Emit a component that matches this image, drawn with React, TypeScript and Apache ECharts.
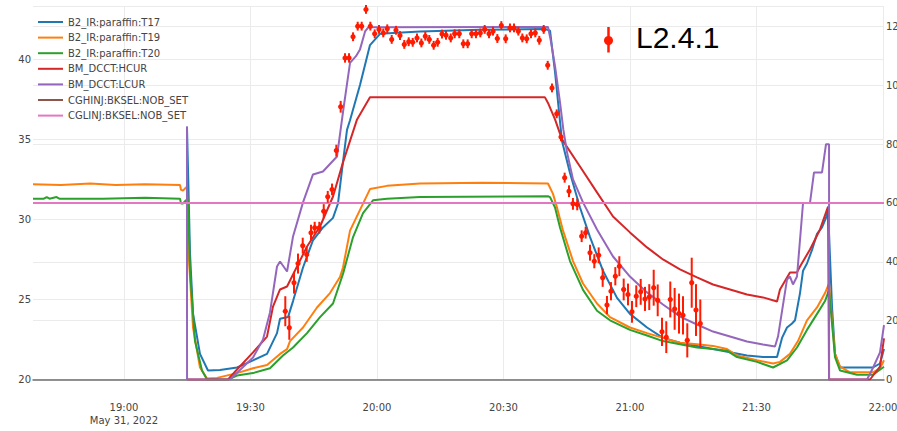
import React, { useEffect, useRef } from "react";
import * as echarts from "echarts";

// ---------- data ----------
const xTickTimes = ["19:00", "19:30", "20:00", "20:30", "21:00", "21:30", "22:00"];
const dateLabel = "May 31, 2022";
const xStart = "18:38:25";
const xEnd = "22:00:14";

const seriesNames = [
  "B2_IR:paraffin:T17",
  "B2_IR:paraffin:T19",
  "B2_IR:paraffin:T20",
  "BM_DCCT:HCUR",
  "BM_DCCT:LCUR",
  "CGHINJ:BKSEL:NOB_SET",
  "CGLINJ:BKSEL:NOB_SET",
];
const seriesColors = ["#1f77b4", "#ff7f0e", "#2ca02c", "#d62728", "#9467bd", "#8c564b", "#e377c2"];

const t17: [string, number][] = [
  ["19:14:56", 35.8], ["19:15:11", 33.1], ["19:15:39", 27.9], ["19:16:22", 24.1], ["19:18:01", 21.6],
  ["19:19:55", 20.56], ["19:22:46", 20.6], ["19:26:48", 20.75], ["19:30:36", 21.2], ["19:33:55", 21.6],
  ["19:36:17", 22.9], ["19:37:00", 23.8], ["19:38:54", 23.9], ["19:40:05", 24.9], ["19:42:27", 27.0],
  ["19:44:49", 28.7], ["19:47:11", 29.5], ["19:49:34", 30.1], ["19:50:45", 31.0], ["19:51:42", 33.1],
  ["19:52:53", 35.6], ["19:53:36", 36.2], ["19:55:58", 38.4], ["19:58:20", 40.9], ["20:00:43", 41.6],
  ["20:10:12", 41.75], ["20:24:26", 41.85], ["20:39:50", 41.9], ["20:41:02", 41.8], ["20:42:13", 39.2],
  ["20:43:52", 34.9], ["20:45:46", 32.9], ["20:48:08", 30.75], ["20:50:31", 28.9], ["20:53:35", 26.8],
  ["20:56:55", 25.1], ["20:59:59", 24.1], ["21:04:02", 23.25], ["21:07:49", 22.6], ["21:11:51", 22.3],
  ["21:15:53", 22.1], ["21:19:41", 21.9], ["21:23:43", 21.7], ["21:27:44", 21.5], ["21:31:32", 21.4],
  ["21:34:52", 21.4], ["21:36:03", 22.6], ["21:37:14", 23.25], ["21:38:25", 23.5], ["21:39:08", 23.7],
  ["21:40:19", 25.4], ["21:41:02", 26.8], ["21:41:58", 27.25], ["21:43:10", 28.1], ["21:44:21", 29.1],
  ["21:45:32", 29.5], ["21:46:29", 30.1], ["21:46:58", 30.6], ["21:47:55", 24.5], ["21:48:37", 21.6],
  ["21:49:49", 20.75], ["21:57:38", 20.75], ["21:59:17", 21.0], ["22:00:14", 21.9],
];

const t19: [string, number][] = [
  ["18:38:25", 32.2], ["18:45:00", 32.15], ["18:52:00", 32.25], ["18:58:00", 32.15], ["19:05:00", 32.2],
  ["19:13:17", 32.15], ["19:13:31", 31.85], ["19:13:59", 31.8], ["19:14:42", 32.0], ["19:14:56", 32.0],
  ["19:15:25", 27.4], ["19:16:22", 23.25], ["19:18:01", 20.75], ["19:19:41", 20.06], ["19:22:03", 20.1],
  ["19:26:48", 20.4], ["19:30:36", 20.7], ["19:33:55", 20.9], ["19:37:00", 21.6], ["19:38:40", 21.9],
  ["19:39:22", 22.4], ["19:42:27", 23.25], ["19:45:46", 24.5], ["19:48:51", 25.4], ["19:51:13", 26.4],
  ["19:51:56", 27.0], ["19:53:36", 29.3], ["19:55:58", 30.6], ["19:58:20", 31.9], ["20:02:22", 32.1],
  ["20:10:12", 32.25], ["20:25:00", 32.3], ["20:40:33", 32.25], ["20:41:44", 31.6], ["20:42:41", 30.75],
  ["20:44:07", 29.3], ["20:46:29", 27.4], ["20:48:51", 26.0], ["20:52:10", 24.75], ["20:55:15", 23.9],
  ["20:59:59", 23.25], ["21:04:02", 22.9], ["21:07:49", 22.6], ["21:11:51", 22.3], ["21:15:53", 22.2],
  ["21:19:41", 22.1], ["21:23:00", 21.9], ["21:25:22", 21.5], ["21:30:07", 21.2], ["21:33:55", 21.0],
  ["21:35:34", 21.1], ["21:37:56", 21.6], ["21:39:50", 22.4], ["21:41:58", 23.7], ["21:44:21", 24.5],
  ["21:46:15", 25.4], ["21:47:12", 26.0], ["21:47:55", 23.7], ["21:48:37", 21.6], ["21:49:49", 20.8],
  ["21:52:11", 20.45], ["21:57:38", 20.45], ["21:59:17", 20.7], ["22:00:14", 21.2],
];

const t20: [string, number][] = [
  ["18:38:25", 31.3], ["18:41:00", 31.3], ["18:41:40", 31.4], ["18:42:20", 31.3], ["18:44:00", 31.4],
  ["18:44:40", 31.3], ["18:55:00", 31.3], ["19:05:00", 31.35], ["19:13:17", 31.3], ["19:13:31", 31.0],
  ["19:13:59", 31.0], ["19:14:42", 31.2], ["19:15:11", 31.2], ["19:15:39", 26.8], ["19:16:50", 22.4],
  ["19:18:30", 20.56], ["19:19:41", 20.0], ["19:24:40", 20.0], ["19:26:48", 20.25], ["19:30:36", 20.4],
  ["19:34:37", 20.7], ["19:37:42", 21.5], ["19:40:05", 22.0], ["19:43:24", 22.9], ["19:46:29", 23.9],
  ["19:49:34", 24.75], ["19:51:56", 26.6], ["19:54:19", 28.9], ["19:56:41", 30.4], ["19:59:03", 31.2],
  ["20:02:22", 31.3], ["20:10:12", 31.4], ["20:40:33", 31.45], ["20:41:02", 31.4], ["20:42:13", 30.75],
  ["20:43:24", 29.5], ["20:45:46", 27.4], ["20:48:51", 25.6], ["20:52:10", 24.3], ["20:55:15", 23.7],
  ["20:59:59", 23.1], ["21:04:02", 22.75], ["21:07:49", 22.4], ["21:11:51", 22.2], ["21:15:53", 22.0],
  ["21:19:41", 21.9], ["21:23:00", 21.8], ["21:25:22", 21.4], ["21:30:07", 21.1], ["21:33:55", 20.75],
  ["21:37:14", 21.2], ["21:39:36", 22.0], ["21:41:58", 23.1], ["21:44:21", 24.1], ["21:46:15", 24.9],
  ["21:47:12", 25.6], ["21:48:37", 21.4], ["21:49:49", 20.56], ["21:53:50", 20.3], ["21:57:38", 20.3],
  ["22:00:14", 20.8],
];

const hcur: [string, number][] = [
  ["19:14:56", 0], ["19:24:40", 0], ["19:26:48", 3.4], ["19:30:36", 9.2], ["19:33:55", 14.6],
  ["19:35:20", 24.8], ["19:37:00", 30.6], ["19:38:40", 31.6], ["19:41:02", 38.4], ["19:43:24", 45.2],
  ["19:46:29", 52], ["19:49:34", 62.2], ["19:51:56", 73.8], ["19:55:16", 88.4], ["19:58:20", 95.9],
  ["20:39:50", 95.9], ["20:40:33", 94.0], ["20:42:13", 88.4], ["20:43:52", 81.6], ["20:48:08", 72.4],
  ["20:52:10", 63.6], ["20:55:58", 55.4], ["20:59:59", 50], ["21:04:02", 44.9], ["21:07:49", 40.8],
  ["21:11:51", 37.4], ["21:15:53", 34.7], ["21:19:41", 32.3], ["21:23:43", 30.6], ["21:27:44", 28.9],
  ["21:31:32", 27.9], ["21:34:52", 26.5], ["21:35:34", 30.6], ["21:37:56", 36.4], ["21:39:36", 36.4],
  ["21:40:19", 38.4], ["21:42:41", 44.2], ["21:45:04", 51], ["21:46:58", 58.8], ["21:47:12", 0],
  ["21:56:55", 0], ["21:59:17", 4.4], ["22:00:14", 14],
];

const lcur: [string, number][] = [
  ["19:14:56", 86], ["19:14:57", 0], ["19:25:08", 0], ["19:30:36", 7.5], ["19:32:58", 13.6],
  ["19:34:37", 22.8], ["19:36:17", 38.4], ["19:37:00", 40.1], ["19:38:40", 36.7], ["19:40:05", 48.6],
  ["19:42:27", 60.2], ["19:44:49", 69.7], ["19:47:11", 70.7], ["19:50:31", 75.8], ["19:52:00", 91.6],
  ["19:53:36", 107.6], ["19:55:01", 109.9], ["19:55:58", 112.2], ["19:57:10", 118.3], ["19:57:56", 119.7],
  ["20:40:33", 119.8], ["20:41:11", 115.4], ["20:42:13", 106.5], ["20:43:24", 94.2], ["20:44:11", 85],
  ["20:45:04", 77.2], ["20:46:29", 68], ["20:48:51", 60.2], ["20:52:10", 51], ["20:55:58", 41.8],
  ["20:59:59", 35], ["21:04:02", 29.6], ["21:07:49", 25.5], ["21:11:51", 21.4], ["21:15:53", 18.7],
  ["21:19:41", 16.3], ["21:23:43", 14.6], ["21:27:44", 12.9], ["21:31:32", 11.9], ["21:34:23", 11.2],
  ["21:35:06", 14.6], ["21:37:14", 34], ["21:37:56", 35], ["21:38:39", 32.3], ["21:39:36", 35],
  ["21:41:02", 60], ["21:42:41", 60], ["21:43:38", 70.4], ["21:45:32", 70.4], ["21:46:29", 80],
  ["21:47:12", 80], ["21:47:13", 0], ["21:56:13", 0], ["21:57:38", 4], ["21:59:17", 9.2],
  ["22:00:14", 18.5],
];

const cghinj: [string, number][] = [["18:38:25", 0], ["22:00:14", 0]];
const cglinj: [string, number][] = [["18:38:25", 60], ["22:00:14", 60]];

const l241Name = "L2.4.1";
const l241Time = [
  "19:38:15", "19:39:12", "19:40:19", "19:41:16", "19:42:23", "19:43:20", "19:44:21", "19:45:13", "19:46:19", "19:47:22",
  "19:48:19", "19:49:20", "19:50:21", "19:51:23", "19:52:25", "19:53:22", "19:54:19", "19:55:25", "19:56:22", "19:57:23",
  "19:58:25", "19:59:27", "20:00:28", "20:01:29", "20:02:26", "20:03:29", "20:04:30", "20:05:27", "20:06:28", "20:07:31",
  "20:08:28", "20:09:29", "20:10:31", "20:11:27", "20:12:24", "20:13:26", "20:14:23", "20:15:25", "20:16:22", "20:17:29",
  "20:18:25", "20:19:31", "20:20:28", "20:21:30", "20:22:27", "20:23:28", "20:24:30", "20:25:32", "20:26:34", "20:27:31",
  "20:28:32", "20:29:29", "20:30:31", "20:31:32", "20:32:29", "20:33:31", "20:34:28", "20:35:30", "20:36:31", "20:37:32",
  "20:38:29", "20:39:32", "20:40:29", "20:41:30", "20:42:37", "20:43:38", "20:44:30", "20:45:32", "20:46:28", "20:47:29",
  "20:48:32", "20:49:29", "20:50:31", "20:51:32", "20:52:34", "20:53:31", "20:54:32", "20:55:29", "20:56:31", "20:57:28",
  "20:58:30", "20:59:31", "21:00:28", "21:01:29", "21:02:32", "21:03:33", "21:04:34", "21:05:37", "21:06:34", "21:07:35",
  "21:08:36", "21:09:33", "21:10:35", "21:11:37", "21:12:34", "21:13:35", "21:14:38", "21:15:39", "21:16:40",
];
const l241Value = [
  23.2, 17.6, 32.9, 39.4, 45.5, 42.5, 49.9, 51.6, 51.6, 57.2,
  62.1, 64.6, 77.8, 92.7, 109.3, 109.3, 116.5, 120.1, 120.1, 125.8,
  120.1, 117.5, 119.0, 117.8, 119.2, 115.6, 118.7, 116.9, 113.9, 114.8,
  114.6, 116.1, 114.4, 116.7, 115.6, 113.6, 114.6, 117.4, 117.0, 116.1,
  117.5, 117.5, 114.1, 114.1, 117.5, 117.5, 117.8, 119.0, 117.5, 118.4,
  115.9, 120.3, 115.8, 119.5, 119.5, 118.4, 116.1, 115.8, 117.5, 117.8,
  115.3, 119.0, 106.8, 99.1, 90.3, 82.4, 68.6, 64.0, 59.7, 59.5,
  48.7, 49.9, 43.1, 40.2, 42.2, 34.6, 25.3, 30.0, 35.1, 38.5,
  30.6, 28.9, 23.0, 28.3, 29.8, 27.4, 28.0, 31.2, 26.9, 16.2,
  14.4, 27.2, 24.0, 22.4, 21.8, 13.3, 32.9, 23.6, 19.0,
];
const l241Err = [
  5.1, 4.1, 3.7, 3.4, 2.7, 2.5, 2.7, 2.0, 2.0, 2.4,
  2.0, 2.0, 2.0, 2.0, 1.6, 1.6, 1.5, 1.5, 1.5, 1.5,
  1.5, 1.5, 1.5, 1.5, 1.5, 1.5, 1.5, 1.5, 1.5, 1.5,
  1.5, 1.5, 1.5, 1.5, 1.5, 1.5, 1.5, 1.5, 1.5, 1.5,
  1.5, 1.5, 1.5, 1.5, 1.5, 1.5, 1.5, 1.5, 1.5, 1.5,
  1.5, 1.5, 1.5, 1.5, 1.5, 1.5, 1.5, 1.5, 1.5, 1.5,
  1.5, 1.5, 1.5, 1.5, 1.5, 1.4, 1.7, 2.0, 2.0, 2.0,
  2.0, 2.0, 2.7, 2.4, 2.7, 3.1, 3.1, 3.1, 3.1, 3.4,
  3.7, 3.7, 3.7, 3.7, 4.4, 4.1, 4.4, 6.1, 5.4, 4.8,
  5.4, 6.1, 7.1, 6.8, 6.5, 5.8, 8.5, 8.8, 8.2,
];
const l241Color = "#ff1a00";

// ---------- helpers ----------
const tm = (s: string): number => {
  const p = s.split(":").map(Number);
  return p[0] * 60 + p[1] + (p[2] || 0) / 60;
};
const fmtTime = (v: number): string => {
  const h = Math.floor(v / 60 + 1e-6);
  const m = Math.round(v - h * 60);
  return `${h}:${String(m).padStart(2, "0")}`;
};

const FONT = "DejaVu Sans, Verdana, sans-serif";

export default function App() {
  const ref = useRef<HTMLDivElement>(null);

  useEffect(() => {
    if (!ref.current) return;
    const chart = echarts.init(ref.current, undefined, { renderer: "svg" });

    const lineData = [t17, t19, t20, hcur, lcur, cghinj, cglinj];
    const yIdx = [0, 0, 0, 1, 1, 0, 1];

    const lineSeries = lineData.map((d, i) => ({
      name: seriesNames[i],
      type: "line",
      yAxisIndex: yIdx[i],
      symbol: "none",
      smooth: false,
      clip: true,
      color: seriesColors[i],
      lineStyle: { width: 2, color: seriesColors[i] },
      data: d.map(([t, v]) => [tm(t), v]),
      z: 2,
    }));

    const errData = l241Time.map((t, i) => [tm(t), l241Value[i], l241Err[i]]);

    const xTicks = xTickTimes.map(tm);

    chart.setOption({
      animation: false,
      backgroundColor: "#ffffff",
      grid: {
        left: 33,
        right: 13,
        top: 6,
        bottom: 51.5,
        containLabel: false,
        outerBoundsMode: "none",
      },
      legend: {
        data: seriesNames,
        orient: "vertical",
        left: 32,
        top: 11,
        itemWidth: 25,
        itemHeight: 12,
        itemGap: 3.6,
        itemTextGap: 4,
        itemStyle: { opacity: 0 },
        textStyle: { fontFamily: FONT, fontSize: 10, color: "#444", lineHeight: 12 },
      },
      xAxis: {
        type: "value",
        min: tm(xStart),
        max: tm(xEnd),
        axisLine: { show: true, lineStyle: { color: "#6e6e6e", width: 1.5 } },
        axisTick: { show: false, customValues: xTicks },
        axisLabel: {
          customValues: xTicks,
          margin: 21,
          fontFamily: FONT,
          fontSize: 10,
          color: "#444",
          lineHeight: 13.5,
          formatter: (v: number) =>
            Math.abs(v - xTicks[0]) < 0.01 ? `${fmtTime(v)}\n${dateLabel}` : fmtTime(v),
        },
        splitLine: { show: true, lineStyle: { color: "#ebebeb", width: 1 } },
      },
      yAxis: [
        {
          type: "value",
          min: 20,
          max: 43.34,
          interval: 5,
          axisLine: { show: false },
          axisTick: { show: false },
          axisLabel: {
            margin: 2,
            fontFamily: FONT,
            fontSize: 10,
            color: "#444",
            showMaxLabel: false,
            formatter: (v: number) => (Math.abs(v % 5) < 1e-6 ? String(v) : ""),
          },
          splitLine: { show: true, lineStyle: { color: "#ebebeb", width: 1 } },
        },
        {
          type: "value",
          position: "right",
          min: 0,
          max: 126.95,
          interval: 20,
          axisLine: { show: false },
          axisTick: { show: false },
          axisLabel: {
            margin: 2,
            fontFamily: FONT,
            fontSize: 10,
            color: "#444",
            showMaxLabel: false,
            formatter: (v: number) => (Math.abs(v % 20) < 1e-6 ? String(v) : ""),
          },
          splitLine: { show: true, lineStyle: { color: "#ebebeb", width: 1 } },
        },
      ],
      series: [
        ...lineSeries,
        {
          name: l241Name,
          type: "custom",
          xAxisIndex: 0,
          yAxisIndex: 1,
          z: 5,
          encode: { x: 0, y: 1 },
          data: errData,
          renderItem: (params: any, api: any) => {
            const x = api.value(0);
            const y = api.value(1);
            const e = api.value(2);
            const c = api.coord([x, y]);
            const hi = api.coord([x, y + e]);
            const lo = api.coord([x, y - e]);
            return {
              type: "group",
              children: [
                {
                  type: "line",
                  shape: { x1: c[0], y1: hi[1], x2: c[0], y2: lo[1] },
                  style: { stroke: l241Color, lineWidth: 2 },
                },
                {
                  type: "circle",
                  shape: { cx: c[0], cy: c[1], r: 2.6 },
                  style: { fill: l241Color },
                },
              ],
            };
          },
        },
      ],
      graphic: [
        {
          type: "group",
          left: 604,
          top: 24,
          children: [
            { type: "line", shape: { x1: 4.5, y1: 0, x2: 4.5, y2: 26 }, style: { stroke: l241Color, lineWidth: 2.5 } },
            { type: "circle", shape: { cx: 4.5, cy: 14, r: 4.5 }, style: { fill: l241Color } },
          ],
        },
        {
          type: "text",
          left: 636,
          top: 22,
          style: {
            text: l241Name,
            fontFamily: "Liberation Sans, Helvetica, Arial, sans-serif",
            fontSize: 30,
            fill: "#000",
          },
        },
      ],
    });

    return () => chart.dispose();
  }, []);

  return (
    <div
      ref={ref}
      style={{ position: "absolute", left: 0, top: 0, width: 897, height: 431 }}
    />
  );
}
